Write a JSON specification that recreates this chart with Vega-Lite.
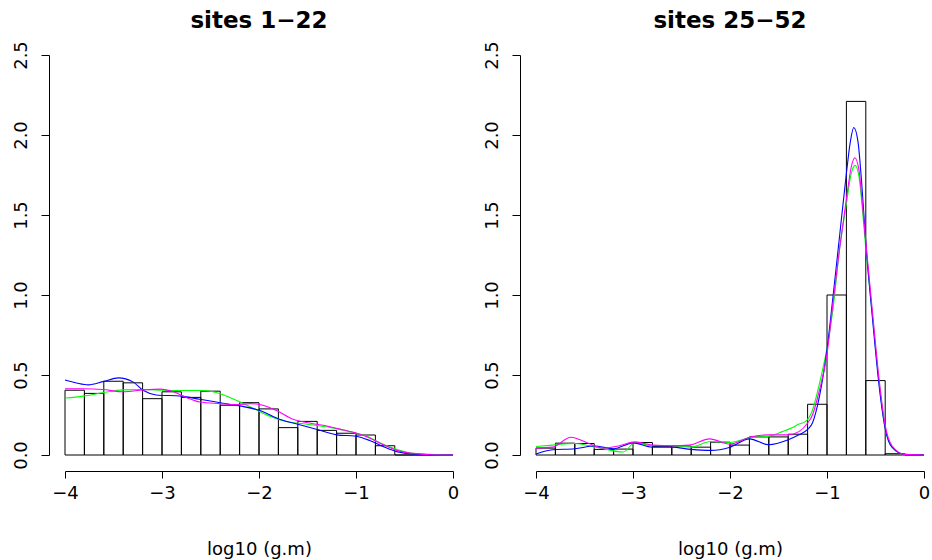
{
  "$schema": "https://vega.github.io/schema/vega-lite/v6.json",
  "background": "white",
  "padding": {"left": 12, "top": 9, "right": 5, "bottom": 2},
  "bounds": "flush",
  "spacing": 83,
  "config": {
    "view": {"stroke": null},
    "font": "DejaVu Sans",
    "axis": {"domainColor": "black", "tickColor": "black", "labelColor": "black", "titleColor": "black", "grid": false, "labelFont": "DejaVu Sans", "titleFont": "DejaVu Sans", "labelFontSize": 18, "titleFontSize": 18, "titleFontWeight": "normal", "domainWidth": 1, "tickWidth": 1},
    "title": {"font": "DejaVu Sans", "fontSize": 23, "fontWeight": "bold", "color": "black"}
  },
  "datasets": {
    "bars": [
      {"panel": 1, "x0": -4.0, "x1": -3.8, "density": 0.405},
      {"panel": 1, "x0": -3.8, "x1": -3.6, "density": 0.385},
      {"panel": 1, "x0": -3.6, "x1": -3.4, "density": 0.461},
      {"panel": 1, "x0": -3.4, "x1": -3.2, "density": 0.451},
      {"panel": 1, "x0": -3.2, "x1": -3.0, "density": 0.352},
      {"panel": 1, "x0": -3.0, "x1": -2.8, "density": 0.395},
      {"panel": 1, "x0": -2.8, "x1": -2.6, "density": 0.36},
      {"panel": 1, "x0": -2.6, "x1": -2.4, "density": 0.399},
      {"panel": 1, "x0": -2.4, "x1": -2.2, "density": 0.311},
      {"panel": 1, "x0": -2.2, "x1": -2.0, "density": 0.327},
      {"panel": 1, "x0": -2.0, "x1": -1.8, "density": 0.288},
      {"panel": 1, "x0": -1.8, "x1": -1.6, "density": 0.171},
      {"panel": 1, "x0": -1.6, "x1": -1.4, "density": 0.21},
      {"panel": 1, "x0": -1.4, "x1": -1.2, "density": 0.154},
      {"panel": 1, "x0": -1.2, "x1": -1.0, "density": 0.136},
      {"panel": 1, "x0": -1.0, "x1": -0.8, "density": 0.125},
      {"panel": 1, "x0": -0.8, "x1": -0.6, "density": 0.058},
      {"panel": 1, "x0": -0.6, "x1": -0.4, "density": 0},
      {"panel": 1, "x0": -0.4, "x1": -0.2, "density": 0},
      {"panel": 1, "x0": -0.2, "x1": 0.0, "density": 0},
      {"panel": 2, "x0": -4.0, "x1": -3.8, "density": 0.043},
      {"panel": 2, "x0": -3.8, "x1": -3.6, "density": 0.074},
      {"panel": 2, "x0": -3.6, "x1": -3.4, "density": 0.072},
      {"panel": 2, "x0": -3.4, "x1": -3.2, "density": 0.035},
      {"panel": 2, "x0": -3.2, "x1": -3.0, "density": 0.037},
      {"panel": 2, "x0": -3.0, "x1": -2.8, "density": 0.078},
      {"panel": 2, "x0": -2.8, "x1": -2.6, "density": 0.053},
      {"panel": 2, "x0": -2.6, "x1": -2.4, "density": 0.056},
      {"panel": 2, "x0": -2.4, "x1": -2.2, "density": 0.049},
      {"panel": 2, "x0": -2.2, "x1": -2.0, "density": 0.08},
      {"panel": 2, "x0": -2.0, "x1": -1.8, "density": 0.062},
      {"panel": 2, "x0": -1.8, "x1": -1.6, "density": 0.113},
      {"panel": 2, "x0": -1.6, "x1": -1.4, "density": 0.113},
      {"panel": 2, "x0": -1.4, "x1": -1.2, "density": 0.13},
      {"panel": 2, "x0": -1.2, "x1": -1.0, "density": 0.317},
      {"panel": 2, "x0": -1.0, "x1": -0.8, "density": 1.0},
      {"panel": 2, "x0": -0.8, "x1": -0.6, "density": 2.21},
      {"panel": 2, "x0": -0.6, "x1": -0.4, "density": 0.465},
      {"panel": 2, "x0": -0.4, "x1": -0.2, "density": 0.008},
      {"panel": 2, "x0": -0.2, "x1": 0.0, "density": 0}
    ],
    "curves": [
      {"panel": 1, "series": "green", "x": -4, "y": 0.356},
      {"panel": 1, "series": "green", "x": -3.81, "y": 0.368},
      {"panel": 1, "series": "green", "x": -3.61, "y": 0.389},
      {"panel": 1, "series": "green", "x": -3.4, "y": 0.407},
      {"panel": 1, "series": "green", "x": -3.19, "y": 0.409},
      {"panel": 1, "series": "green", "x": -2.99, "y": 0.405},
      {"panel": 1, "series": "green", "x": -2.78, "y": 0.403},
      {"panel": 1, "series": "green", "x": -2.58, "y": 0.403},
      {"panel": 1, "series": "green", "x": -2.4, "y": 0.383},
      {"panel": 1, "series": "green", "x": -2.23, "y": 0.34},
      {"panel": 1, "series": "green", "x": -2.06, "y": 0.292},
      {"panel": 1, "series": "green", "x": -1.89, "y": 0.243},
      {"panel": 1, "series": "green", "x": -1.71, "y": 0.208},
      {"panel": 1, "series": "green", "x": -1.54, "y": 0.195},
      {"panel": 1, "series": "green", "x": -1.37, "y": 0.181},
      {"panel": 1, "series": "green", "x": -1.2, "y": 0.165},
      {"panel": 1, "series": "green", "x": -1.03, "y": 0.142},
      {"panel": 1, "series": "green", "x": -0.89, "y": 0.117},
      {"panel": 1, "series": "green", "x": -0.76, "y": 0.078},
      {"panel": 1, "series": "green", "x": -0.62, "y": 0.043},
      {"panel": 1, "series": "green", "x": -0.45, "y": 0.014},
      {"panel": 1, "series": "green", "x": -0.24, "y": 0.004},
      {"panel": 1, "series": "green", "x": 0, "y": 0},
      {"panel": 1, "series": "blue", "x": -4, "y": 0.469},
      {"panel": 1, "series": "blue", "x": -3.88, "y": 0.45},
      {"panel": 1, "series": "blue", "x": -3.76, "y": 0.438},
      {"panel": 1, "series": "blue", "x": -3.6, "y": 0.46},
      {"panel": 1, "series": "blue", "x": -3.45, "y": 0.482},
      {"panel": 1, "series": "blue", "x": -3.3, "y": 0.457},
      {"panel": 1, "series": "blue", "x": -3.19, "y": 0.403},
      {"panel": 1, "series": "blue", "x": -3.06, "y": 0.375},
      {"panel": 1, "series": "blue", "x": -2.8, "y": 0.368},
      {"panel": 1, "series": "blue", "x": -2.61, "y": 0.348},
      {"panel": 1, "series": "blue", "x": -2.4, "y": 0.327},
      {"panel": 1, "series": "blue", "x": -2.2, "y": 0.307},
      {"panel": 1, "series": "blue", "x": -1.99, "y": 0.278},
      {"panel": 1, "series": "blue", "x": -1.79, "y": 0.224},
      {"panel": 1, "series": "blue", "x": -1.58, "y": 0.189},
      {"panel": 1, "series": "blue", "x": -1.41, "y": 0.161},
      {"panel": 1, "series": "blue", "x": -1.2, "y": 0.126},
      {"panel": 1, "series": "blue", "x": -1.0, "y": 0.117},
      {"panel": 1, "series": "blue", "x": -0.86, "y": 0.091},
      {"panel": 1, "series": "blue", "x": -0.72, "y": 0.053},
      {"panel": 1, "series": "blue", "x": -0.58, "y": 0.021},
      {"panel": 1, "series": "blue", "x": -0.45, "y": 0.008},
      {"panel": 1, "series": "blue", "x": -0.27, "y": 0.002},
      {"panel": 1, "series": "blue", "x": 0, "y": 0},
      {"panel": 1, "series": "magenta", "x": -4, "y": 0.414},
      {"panel": 1, "series": "magenta", "x": -3.81, "y": 0.414},
      {"panel": 1, "series": "magenta", "x": -3.61, "y": 0.409},
      {"panel": 1, "series": "magenta", "x": -3.4, "y": 0.395},
      {"panel": 1, "series": "magenta", "x": -3.19, "y": 0.407},
      {"panel": 1, "series": "magenta", "x": -3.02, "y": 0.412},
      {"panel": 1, "series": "magenta", "x": -2.88, "y": 0.395},
      {"panel": 1, "series": "magenta", "x": -2.75, "y": 0.36},
      {"panel": 1, "series": "magenta", "x": -2.61, "y": 0.331},
      {"panel": 1, "series": "magenta", "x": -2.4, "y": 0.321},
      {"panel": 1, "series": "magenta", "x": -2.23, "y": 0.315},
      {"panel": 1, "series": "magenta", "x": -2.09, "y": 0.321},
      {"panel": 1, "series": "magenta", "x": -1.96, "y": 0.311},
      {"panel": 1, "series": "magenta", "x": -1.82, "y": 0.278},
      {"panel": 1, "series": "magenta", "x": -1.65, "y": 0.224},
      {"panel": 1, "series": "magenta", "x": -1.48, "y": 0.2},
      {"panel": 1, "series": "magenta", "x": -1.3, "y": 0.181},
      {"panel": 1, "series": "magenta", "x": -1.13, "y": 0.156},
      {"panel": 1, "series": "magenta", "x": -0.96, "y": 0.13},
      {"panel": 1, "series": "magenta", "x": -0.86, "y": 0.107},
      {"panel": 1, "series": "magenta", "x": -0.72, "y": 0.064},
      {"panel": 1, "series": "magenta", "x": -0.58, "y": 0.029},
      {"panel": 1, "series": "magenta", "x": -0.41, "y": 0.01},
      {"panel": 1, "series": "magenta", "x": -0.24, "y": 0.002},
      {"panel": 1, "series": "magenta", "x": 0, "y": 0},
      {"panel": 2, "series": "green", "x": -4, "y": 0.053},
      {"panel": 2, "series": "green", "x": -3.83, "y": 0.062},
      {"panel": 2, "series": "green", "x": -3.6, "y": 0.072},
      {"panel": 2, "series": "green", "x": -3.38, "y": 0.049},
      {"panel": 2, "series": "green", "x": -3.1, "y": 0.019},
      {"panel": 2, "series": "green", "x": -2.98, "y": 0.078},
      {"panel": 2, "series": "green", "x": -2.8, "y": 0.058},
      {"panel": 2, "series": "green", "x": -2.6, "y": 0.058},
      {"panel": 2, "series": "green", "x": -2.4, "y": 0.049},
      {"panel": 2, "series": "green", "x": -2.2, "y": 0.084},
      {"panel": 2, "series": "green", "x": -2.0, "y": 0.078},
      {"panel": 2, "series": "green", "x": -1.8, "y": 0.107},
      {"panel": 2, "series": "green", "x": -1.6, "y": 0.117},
      {"panel": 2, "series": "green", "x": -1.46, "y": 0.146},
      {"panel": 2, "series": "green", "x": -1.36, "y": 0.17},
      {"panel": 2, "series": "green", "x": -1.3, "y": 0.19},
      {"panel": 2, "series": "green", "x": -1.22, "y": 0.21},
      {"panel": 2, "series": "green", "x": -1.15, "y": 0.28},
      {"panel": 2, "series": "green", "x": -1.08, "y": 0.44},
      {"panel": 2, "series": "green", "x": -1.0, "y": 0.67},
      {"panel": 2, "series": "green", "x": -0.94, "y": 0.905},
      {"panel": 2, "series": "green", "x": -0.87, "y": 1.29},
      {"panel": 2, "series": "green", "x": -0.8, "y": 1.57},
      {"panel": 2, "series": "green", "x": -0.75, "y": 1.76},
      {"panel": 2, "series": "green", "x": -0.71, "y": 1.81},
      {"panel": 2, "series": "green", "x": -0.67, "y": 1.74},
      {"panel": 2, "series": "green", "x": -0.64, "y": 1.57},
      {"panel": 2, "series": "green", "x": -0.6, "y": 1.29},
      {"panel": 2, "series": "green", "x": -0.53, "y": 0.866},
      {"panel": 2, "series": "green", "x": -0.46, "y": 0.438},
      {"panel": 2, "series": "green", "x": -0.4, "y": 0.165},
      {"panel": 2, "series": "green", "x": -0.33, "y": 0.049},
      {"panel": 2, "series": "green", "x": -0.2, "y": 0.004},
      {"panel": 2, "series": "green", "x": 0, "y": 0},
      {"panel": 2, "series": "blue", "x": -4, "y": 0.006},
      {"panel": 2, "series": "blue", "x": -3.83, "y": 0.033},
      {"panel": 2, "series": "blue", "x": -3.6, "y": 0.039},
      {"panel": 2, "series": "blue", "x": -3.4, "y": 0.056},
      {"panel": 2, "series": "blue", "x": -3.2, "y": 0.039},
      {"panel": 2, "series": "blue", "x": -3.0, "y": 0.076},
      {"panel": 2, "series": "blue", "x": -2.8, "y": 0.049},
      {"panel": 2, "series": "blue", "x": -2.6, "y": 0.049},
      {"panel": 2, "series": "blue", "x": -2.4, "y": 0.035},
      {"panel": 2, "series": "blue", "x": -2.2, "y": 0.029},
      {"panel": 2, "series": "blue", "x": -2.0, "y": 0.049},
      {"panel": 2, "series": "blue", "x": -1.8, "y": 0.101},
      {"panel": 2, "series": "blue", "x": -1.6, "y": 0.064},
      {"panel": 2, "series": "blue", "x": -1.4, "y": 0.095},
      {"panel": 2, "series": "blue", "x": -1.29, "y": 0.126},
      {"panel": 2, "series": "blue", "x": -1.2, "y": 0.16},
      {"panel": 2, "series": "blue", "x": -1.15, "y": 0.2},
      {"panel": 2, "series": "blue", "x": -1.08, "y": 0.36},
      {"panel": 2, "series": "blue", "x": -1.0, "y": 0.66},
      {"panel": 2, "series": "blue", "x": -0.94, "y": 0.98},
      {"panel": 2, "series": "blue", "x": -0.87, "y": 1.37},
      {"panel": 2, "series": "blue", "x": -0.8, "y": 1.76},
      {"panel": 2, "series": "blue", "x": -0.76, "y": 1.955},
      {"panel": 2, "series": "blue", "x": -0.724, "y": 2.047},
      {"panel": 2, "series": "blue", "x": -0.68, "y": 1.955},
      {"panel": 2, "series": "blue", "x": -0.64, "y": 1.68},
      {"panel": 2, "series": "blue", "x": -0.6, "y": 1.33},
      {"panel": 2, "series": "blue", "x": -0.53, "y": 0.846},
      {"panel": 2, "series": "blue", "x": -0.46, "y": 0.418},
      {"panel": 2, "series": "blue", "x": -0.4, "y": 0.165},
      {"panel": 2, "series": "blue", "x": -0.33, "y": 0.049},
      {"panel": 2, "series": "blue", "x": -0.2, "y": 0.004},
      {"panel": 2, "series": "blue", "x": 0, "y": 0},
      {"panel": 2, "series": "magenta", "x": -4, "y": 0.043},
      {"panel": 2, "series": "magenta", "x": -3.83, "y": 0.049},
      {"panel": 2, "series": "magenta", "x": -3.64, "y": 0.111},
      {"panel": 2, "series": "magenta", "x": -3.48, "y": 0.078},
      {"panel": 2, "series": "magenta", "x": -3.31, "y": 0.043},
      {"panel": 2, "series": "magenta", "x": -3.14, "y": 0.058},
      {"panel": 2, "series": "magenta", "x": -2.98, "y": 0.082},
      {"panel": 2, "series": "magenta", "x": -2.8, "y": 0.062},
      {"panel": 2, "series": "magenta", "x": -2.6, "y": 0.058},
      {"panel": 2, "series": "magenta", "x": -2.42, "y": 0.062},
      {"panel": 2, "series": "magenta", "x": -2.21, "y": 0.101},
      {"panel": 2, "series": "magenta", "x": -2.0, "y": 0.068},
      {"panel": 2, "series": "magenta", "x": -1.8, "y": 0.111},
      {"panel": 2, "series": "magenta", "x": -1.6, "y": 0.126},
      {"panel": 2, "series": "magenta", "x": -1.4, "y": 0.126},
      {"panel": 2, "series": "magenta", "x": -1.29, "y": 0.146},
      {"panel": 2, "series": "magenta", "x": -1.2, "y": 0.2},
      {"panel": 2, "series": "magenta", "x": -1.15, "y": 0.25},
      {"panel": 2, "series": "magenta", "x": -1.08, "y": 0.4},
      {"panel": 2, "series": "magenta", "x": -1.0, "y": 0.63},
      {"panel": 2, "series": "magenta", "x": -0.94, "y": 0.94},
      {"panel": 2, "series": "magenta", "x": -0.87, "y": 1.29},
      {"panel": 2, "series": "magenta", "x": -0.8, "y": 1.6},
      {"panel": 2, "series": "magenta", "x": -0.75, "y": 1.8},
      {"panel": 2, "series": "magenta", "x": -0.714, "y": 1.858},
      {"panel": 2, "series": "magenta", "x": -0.67, "y": 1.78},
      {"panel": 2, "series": "magenta", "x": -0.64, "y": 1.6},
      {"panel": 2, "series": "magenta", "x": -0.6, "y": 1.33},
      {"panel": 2, "series": "magenta", "x": -0.53, "y": 0.885},
      {"panel": 2, "series": "magenta", "x": -0.46, "y": 0.457},
      {"panel": 2, "series": "magenta", "x": -0.4, "y": 0.185},
      {"panel": 2, "series": "magenta", "x": -0.33, "y": 0.058},
      {"panel": 2, "series": "magenta", "x": -0.2, "y": 0.004},
      {"panel": 2, "series": "magenta", "x": 0, "y": 0}
    ]
  },
  "hconcat": [
    {
      "width": 388,
      "height": 400,
      "title": {"text": "sites 1−22", "baseline": "alphabetic", "offset": -10, "anchor": "middle", "frame": "group"},
      "layer": [
        {
          "data": {"name": "bars"},
          "transform": [{"filter": "datum.panel == 1"}],
          "mark": {"type": "rect", "fill": "white", "fillOpacity": 0, "stroke": "black", "strokeWidth": 1},
          "encoding": {
            "x": {"field": "x0", "type": "quantitative", "scale": {"domain": [-4, 0], "nice": false, "zero": false}, "axis": {"values": [-4, -3, -2, -1, 0], "format": "d", "offset": 16, "tickSize": 7, "labelPadding": 6, "labelFlush": false, "labelOverlap": false, "title": "log10 (g.m)", "titlePadding": 38}},
            "x2": {"field": "x1"},
            "y": {"field": "density", "type": "quantitative", "scale": {"domain": [0, 2.5], "nice": false}, "axis": {"values": [0, 0.5, 1, 1.5, 2, 2.5], "format": ".1f", "offset": 16, "tickSize": 8, "labelAngle": -90, "labelAlign": "center", "labelBaseline": "alphabetic", "labelPadding": 15, "labelFlush": false, "labelOverlap": false, "title": null}},
            "y2": {"datum": 0}
          }
        },
        {
          "data": {"name": "curves"},
          "transform": [{"filter": "datum.panel == 1"}],
          "mark": {"type": "line", "interpolate": "monotone", "strokeWidth": 1.1},
          "encoding": {
            "x": {"field": "x", "type": "quantitative", "scale": {"domain": [-4, 0], "nice": false, "zero": false}, "axis": {"values": [-4, -3, -2, -1, 0], "format": "d", "offset": 16, "tickSize": 7, "labelPadding": 6, "labelFlush": false, "labelOverlap": false, "title": "log10 (g.m)", "titlePadding": 38}},
            "y": {"field": "y", "type": "quantitative", "scale": {"domain": [0, 2.5], "nice": false}, "axis": {"values": [0, 0.5, 1, 1.5, 2, 2.5], "format": ".1f", "offset": 16, "tickSize": 8, "labelAngle": -90, "labelAlign": "center", "labelBaseline": "alphabetic", "labelPadding": 15, "labelFlush": false, "labelOverlap": false, "title": null}},
            "color": {"field": "series", "type": "nominal", "scale": {"domain": ["green", "blue", "magenta"], "range": ["#00FF00", "#0000FF", "#FF00FF"]}, "legend": null}
          }
        }
      ]
    },
    {
      "width": 388,
      "height": 400,
      "title": {"text": "sites 25−52", "baseline": "alphabetic", "offset": -10, "anchor": "middle", "frame": "group"},
      "layer": [
        {
          "data": {"name": "bars"},
          "transform": [{"filter": "datum.panel == 2"}],
          "mark": {"type": "rect", "fill": "white", "fillOpacity": 0, "stroke": "black", "strokeWidth": 1},
          "encoding": {
            "x": {"field": "x0", "type": "quantitative", "scale": {"domain": [-4, 0], "nice": false, "zero": false}, "axis": {"values": [-4, -3, -2, -1, 0], "format": "d", "offset": 16, "tickSize": 7, "labelPadding": 6, "labelFlush": false, "labelOverlap": false, "title": "log10 (g.m)", "titlePadding": 38}},
            "x2": {"field": "x1"},
            "y": {"field": "density", "type": "quantitative", "scale": {"domain": [0, 2.5], "nice": false}, "axis": {"values": [0, 0.5, 1, 1.5, 2, 2.5], "format": ".1f", "offset": 16, "tickSize": 8, "labelAngle": -90, "labelAlign": "center", "labelBaseline": "alphabetic", "labelPadding": 15, "labelFlush": false, "labelOverlap": false, "title": null}},
            "y2": {"datum": 0}
          }
        },
        {
          "data": {"name": "curves"},
          "transform": [{"filter": "datum.panel == 2"}],
          "mark": {"type": "line", "interpolate": "monotone", "strokeWidth": 1.1},
          "encoding": {
            "x": {"field": "x", "type": "quantitative", "scale": {"domain": [-4, 0], "nice": false, "zero": false}, "axis": {"values": [-4, -3, -2, -1, 0], "format": "d", "offset": 16, "tickSize": 7, "labelPadding": 6, "labelFlush": false, "labelOverlap": false, "title": "log10 (g.m)", "titlePadding": 38}},
            "y": {"field": "y", "type": "quantitative", "scale": {"domain": [0, 2.5], "nice": false}, "axis": {"values": [0, 0.5, 1, 1.5, 2, 2.5], "format": ".1f", "offset": 16, "tickSize": 8, "labelAngle": -90, "labelAlign": "center", "labelBaseline": "alphabetic", "labelPadding": 15, "labelFlush": false, "labelOverlap": false, "title": null}},
            "color": {"field": "series", "type": "nominal", "scale": {"domain": ["green", "blue", "magenta"], "range": ["#00FF00", "#0000FF", "#FF00FF"]}, "legend": null}
          }
        }
      ]
    }
  ]
}
